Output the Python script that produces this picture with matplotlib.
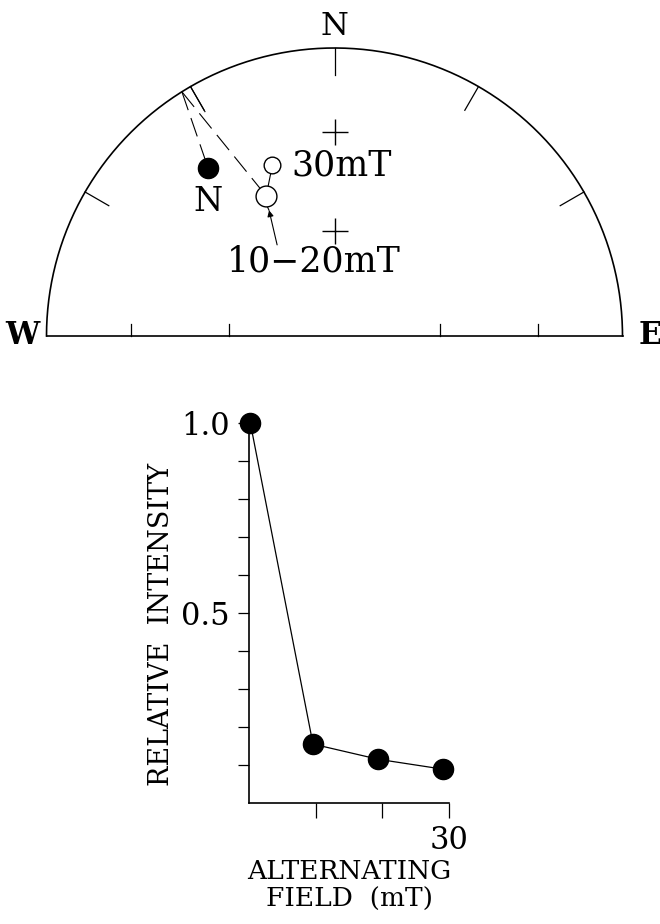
import numpy as np
import matplotlib
matplotlib.use("Agg")
import matplotlib.pyplot as plt

plt.rcParams['font.family'] = ['DejaVu Serif']
plt.rcParams['lines.scale_dashes'] = False

#### Donnees ####
# stereogramme (aire egale) : declinaison, inclinaison en degres
nrm_dec, nrm_inc = 323, 28          # point plein (N)
steps = ["10-20mT", "30mT"]
step_dec = [334, 340]
step_inc = [-45, -37]              # hemisphere superieur -> cercles vides
trace_dec = 328                     # ou les chemins coupent le cercle
trace2_dec, trace2_inc = 330, 11

# intensite relative
field = [0.2, 9.6, 19.4, 29.1]
intensity = [1.0, 0.155, 0.115, 0.089]
#################


def proj(dec, inc):
    r = np.sqrt(2) * np.sin(np.radians(90 - abs(inc)) / 2)
    return r * np.sin(np.radians(dec)), r * np.cos(np.radians(dec))


W, H = 660, 924
fig = plt.figure(figsize=(W / 100, H / 100), dpi=100)

# axe du haut : centre a (334.5, 336) px, rayon 288 px
cx, cy, R = 334.5, 336, 288
top_px = 372
ax1 = fig.add_axes([0, 1 - top_px / H, 1, top_px / H])
ax1.set_xlim(-cx / R, (W - cx) / R)
ax1.set_ylim(-(top_px - cy) / R, cy / R)
ax1.axis('off')

th = np.linspace(-np.pi / 2, np.pi / 2, 300)
ax1.plot(np.sin(th), np.cos(th), color='k', lw=1.2)
ax1.plot([-1, 1], [0, 0], color='k', lw=1.2)

for az in [300, 330, 0, 30, 60]:
    a = np.radians(az)
    ax1.plot([np.sin(a), 0.905 * np.sin(a)], [np.cos(a), 0.905 * np.cos(a)],
             color='k', lw=0.9)
for inc in [30, 60]:
    for d in [90, 270]:
        x, _ = proj(d, inc)
        ax1.plot([x, x], [0, 0.042], color='k', lw=0.9)
    x, y = proj(0, inc)
    ax1.plot(x, y, marker='+', ms=19, mew=1.0, color='k')

ax1.text(0, 1.075, "N", ha='center', va='center', fontsize=23)
ax1.text(-1.085, 0.0, "W", ha='center', va='center', fontsize=22, fontweight='bold')
ax1.text(1.095, 0.0, "E", ha='center', va='center', fontsize=22, fontweight='bold')

# chemins
nx, ny = proj(nrm_dec, nrm_inc)
sx, sy = zip(*[proj(d, i) for d, i in zip(step_dec, step_inc)])
tx, ty = proj(trace_dec, 0)
ax1.plot([tx, nx], [ty, ny], color='k', lw=0.8, ls=(0, (14, 6)))
ax1.plot([tx, sx[0]], [ty, sy[0]], color='k', lw=0.8, ls=(0, (14, 6)))
t2a = proj(trace2_dec, 0)
t2b = proj(trace2_dec, trace2_inc)
ax1.plot([t2a[0], t2b[0]], [t2a[1], t2b[1]], color='k', lw=0.8)
ax1.plot(sx, sy, color='k', lw=0.8)

ax1.plot(nx, ny, 'o', ms=14.5, color='k', zorder=5)
ax1.plot(sx[0], sy[0], 'o', ms=15, mfc='white', mec='k', mew=1.0, zorder=5)
ax1.plot(sx[1], sy[1], 'o', ms=12, mfc='white', mec='k', mew=1.0, zorder=5)

ax1.text(nx, ny - 0.115, "N", ha='center', va='center', fontsize=24)
ax1.text(sx[1] + 0.065, sy[1], "30mT", ha='left', va='center', fontsize=25)
ax1.text(-0.072, 0.26, "10\u221220mT", ha='center', va='center', fontsize=25)
ax1.annotate("", xy=(sx[0] + 0.01, sy[0] - 0.05), xytext=(sx[0] + 0.038, sy[0] - 0.17),
             arrowprops=dict(arrowstyle='-|>', color='k', lw=0.8, mutation_scale=9,
                             shrinkA=0, shrinkB=0))
ax1.plot([sx[0] + 0.003, sx[0] + 0.01], [sy[0] - 0.035, sy[0] - 0.05], color='k', lw=0.8)

# axe du bas
ax2 = fig.add_axes([249 / W, (H - 803) / H, 200 / W, 380 / H])
ax2.plot(field, intensity, color='k', lw=0.9, marker='o', ms=14.5, clip_on=False, zorder=5)
ax2.set_xlim(0, 30)
ax2.set_ylim(0, 1.0)
for s in ['top', 'right']:
    ax2.spines[s].set_visible(False)
for s in ['left', 'bottom']:
    ax2.spines[s].set_linewidth(1.2)

yt = np.round(np.arange(0.1, 1.01, 0.1), 1)
ax2.set_yticks(yt)
ax2.set_yticklabels(["1.0" if v == 1.0 else "0.5" if v == 0.5 else "" for v in yt])
ax2.set_xticks([10, 20, 30])
ax2.set_xticklabels(["", "", "30"])
ax2.tick_params(axis='y', direction='out', length=8, width=0.9, pad=6, labelsize=22)
ax2.tick_params(axis='x', direction='out', length=11, width=0.9, pad=5, labelsize=22)

ax2.set_xlabel("ALTERNATING\nFIELD  (mT)", fontsize=19, linespacing=1.15, labelpad=2)
ax2.set_ylabel("RELATIVE  INTENSITY", fontsize=19.5)
ax2.yaxis.set_label_coords(-0.37, 0.47)

fig.savefig("out.png", dpi=100)
